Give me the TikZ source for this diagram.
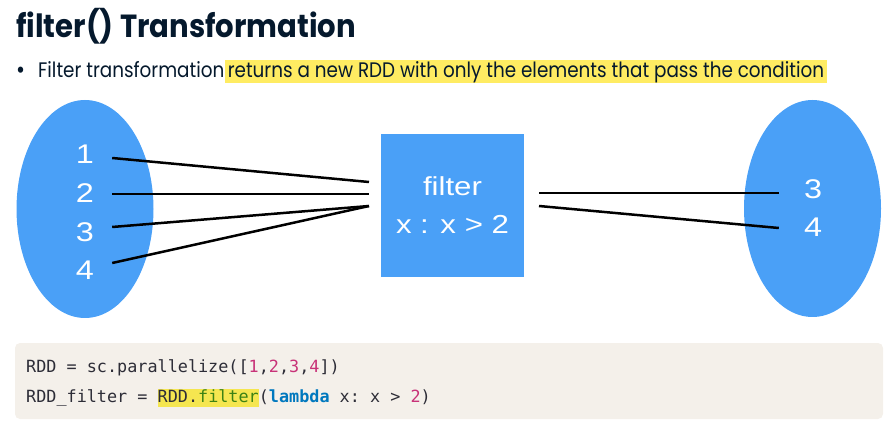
\documentclass[tikz,border=0pt]{standalone}
\usepackage{fontspec}
\usepackage{tikz}
\usetikzlibrary{shapes.geometric}
\setmainfont{Poppins}
\newfontfamily\titlefont[FakeStretch=0.91]{Poppins}
\newfontfamily\bodyfont[FakeStretch=0.875]{Poppins}
\newfontfamily\diafont[FakeStretch=1.2]{Liberation Sans}
\setmonofont{DejaVu Sans Mono}
\definecolor{dcnavy}{RGB}{5,25,45}
\definecolor{setblue}{RGB}{74,160,247}
\definecolor{hlyellow}{RGB}{255,236,98}
\definecolor{codebg}{RGB}{244,240,234}
\definecolor{codetext}{RGB}{45,45,55}
\definecolor{codenum}{RGB}{200,50,120}
\definecolor{codegreen}{RGB}{60,130,20}
\definecolor{codeblue}{RGB}{0,120,190}
\definecolor{codehl}{RGB}{245,230,80}
\newcommand{\codemark}[1]{{\setlength\fboxsep{0pt}\colorbox{codehl}{\rule[-5pt]{0pt}{17pt}#1}}}
\tikzset{
  setshape/.style={ellipse, fill=setblue, inner sep=0pt},
  num/.style={text=white, font=\diafont\fontsize{27}{30}\selectfont, inner sep=0pt, minimum width=54pt},
  link/.style={line width=2.5pt, black},
  bodytext/.style={anchor=base west, inner sep=0pt, text=dcnavy, font=\bodyfont\fontsize{21}{24}\selectfont},
  codeline/.style={anchor=base west, inner sep=0pt, text=codetext, font=\ttfamily\fontsize{16.8}{20}\selectfont}
}
\begin{document}
\begin{tikzpicture}[x=1pt, y=-1pt]
\useasboundingbox (0,0) rectangle (896,435);
% heading and bullet
\node[anchor=base west, inner sep=0pt, text=dcnavy, font=\titlefont\bfseries\fontsize{32}{36}\selectfont] (title) at (16,38) {filter() Transformation};
\node[bodytext, font=\bodyfont\fontsize{25}{24}\selectfont] (bul) at (16,79) {•};
\node[bodytext] (txt) at (38,78) {Filter transformation};
\node[bodytext, inner xsep=3pt, text height=18pt, text depth=5pt, fill=hlyellow] (hl) at (txt.base east) {returns a new RDD with only the elements that pass the condition};
% input set
\node[setshape, minimum width=137pt, minimum height=218pt] (inset) at (85,209) {};
\node[num] (l1) at (85,154.5) {1};
\node[num] (l2) at (85,193) {2};
\node[num] (l3) at (85,232) {3};
\node[num] (l4) at (85,270) {4};
% filter box
\node[rectangle, fill=setblue, minimum width=143pt, minimum height=143pt, inner sep=0pt, align=center, text=white, font=\diafont\fontsize{26}{38}\selectfont] (filt) at (452.5,205.5) {filter\\x : x > 2};
\coordinate (fin1) at (369,182);
\coordinate (fin2) at (369,194);
\coordinate (fin3) at (369,206);
\coordinate (fout1) at (539,193);
\coordinate (fout2) at (539,206);
% output set
\node[setshape, minimum width=137pt, minimum height=217pt] (outset) at (812.5,208.5) {};
\node[num, minimum width=68pt] (r3) at (813,189) {3};
\node[num, minimum width=68pt] (r4) at (813,227.5) {4};
\draw[link] ([yshift=-3.5pt]l1.east) -- (fin1);
\draw[link] ([yshift=-1pt]l2.east) -- (fin2);
\draw[link] ([yshift=5pt]l3.east) -- (fin3);
\draw[link] ([yshift=7pt]l4.east) -- (fin3);
\draw[link] (fout1) -- ([yshift=-4pt]r3.west);
\draw[link] (fout2) -- ([yshift=-0.5pt]r4.west);
% code
\node[rectangle, rounded corners=5pt, fill=codebg, minimum width=868pt, minimum height=76pt, inner sep=0pt] (codebox) at (449,381) {};
\node[codeline] (code1) at (26,372) {RDD = sc.parallelize([\textcolor{codenum}{1},\textcolor{codenum}{2},\textcolor{codenum}{3},\textcolor{codenum}{4}])};
\node[codeline] (code2) at (26,402) {RDD\char"005F filter = \codemark{RDD.\textcolor{codegreen}{filter}}(\textcolor{codeblue}{\bfseries lambda} x: x > \textcolor{codenum}{2})};
\end{tikzpicture}
\end{document}
